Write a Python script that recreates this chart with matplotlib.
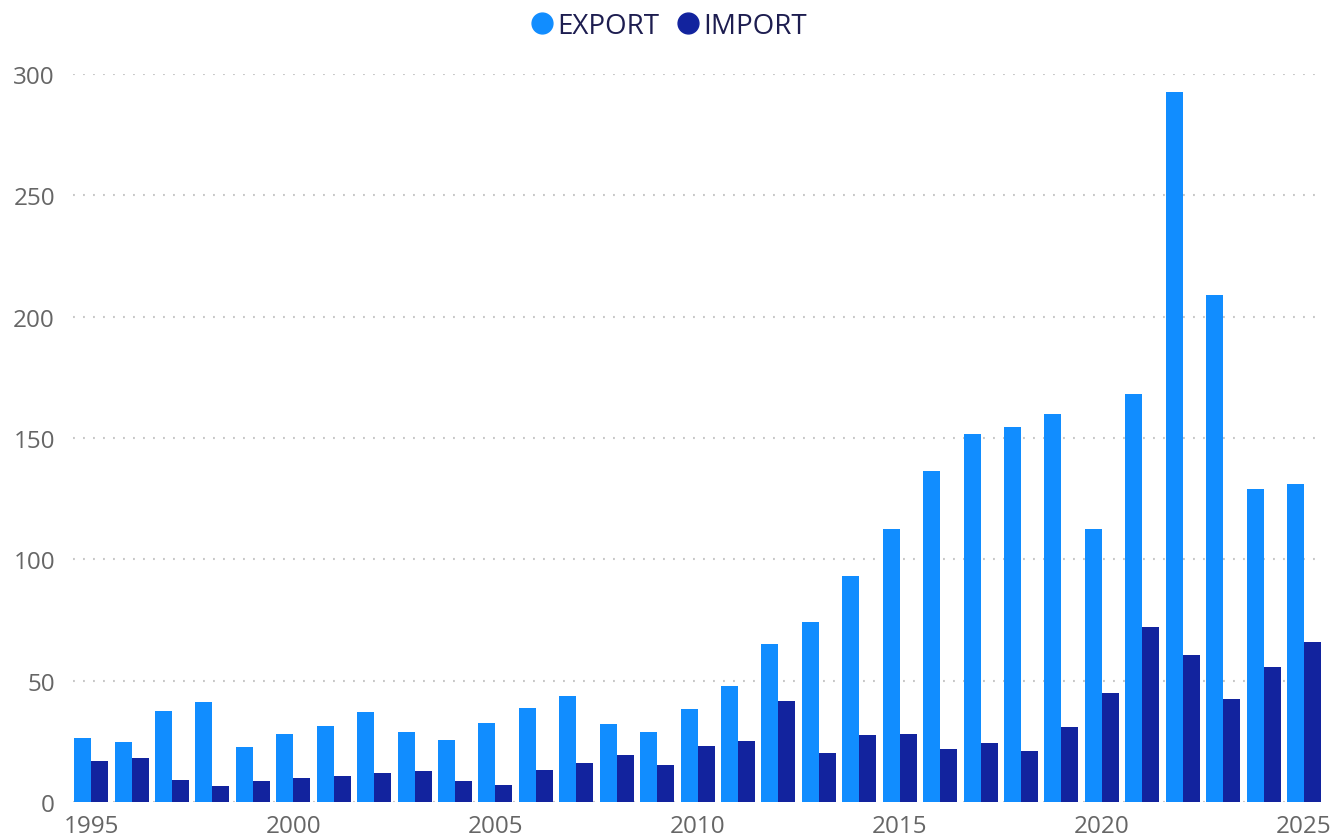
import numpy as np
import matplotlib.pyplot as plt
from matplotlib.lines import Line2D

plt.rcParams['font.family'] = ['Open Sans', 'DejaVu Sans']

years = list(range(1995, 2026))
export = [26.4, 24.7, 37.5, 41.2, 22.7, 28.0, 31.3, 37.1, 28.9, 25.6,
          32.6, 38.7, 43.7, 32.1, 28.9, 38.3, 47.8, 65.1, 74.2, 93.2,
          112.5, 136.4, 151.7, 154.6, 159.9, 112.5, 168.2, 292.7, 209.0, 129.0, 131.1]
imports = [16.9, 18.1, 9.1, 6.6, 8.7, 9.9, 10.7, 12.0, 12.8, 8.7,
           7.0, 13.2, 16.1, 19.4, 15.3, 23.1, 25.1, 41.6, 20.2, 27.6,
           28.0, 21.8, 24.3, 21.0, 30.9, 44.9, 72.1, 60.6, 42.5, 55.6, 66.0]
xticks = [1995, 2000, 2005, 2010, 2015, 2020, 2025]
yticks = [0, 50, 100, 150, 200, 250, 300]

c_exp = "#118DFF"
c_imp = "#12239E"

### --------------------------------------------
fig = plt.figure(figsize=(13.35, 8.37), dpi=100)
ax = fig.add_axes([73/1335, 34/837, 1248/1335, 728/837])

x = np.array(years)
w = 0.42
ax.bar(x - w/2, export, width=w, color=c_exp, zorder=3)
ax.bar(x + w/2, imports, width=w, color=c_imp, zorder=3)

ax.set_xlim(1994.55, 2025.42)
ax.set_ylim(0, 300)
ax.set_xticks(xticks)
ax.set_yticks(yticks)
ax.tick_params(axis='both', length=0, labelsize=17.5, labelcolor='#666666')
ax.tick_params(axis='y', pad=13)
ax.tick_params(axis='x', pad=9)
for s in ax.spines.values():
    s.set_visible(False)
ax.grid(axis='y', color='#c8c8c8', linewidth=1.5, linestyle=(0, (0.9, 3.9)), zorder=0)
ax.set_axisbelow(True)

handles = [Line2D([], [], marker='o', linestyle='', markersize=15, color=c_exp),
           Line2D([], [], marker='o', linestyle='', markersize=15, color=c_imp)]
fig.legend(handles, ['EXPORT', 'IMPORT'], loc='center', bbox_to_anchor=(0.5, 1 - 27/837),
           ncol=2, frameon=False, fontsize=20, labelcolor='#1d1d50',
           handletextpad=0.05, columnspacing=0.5, handlelength=1.0)

plt.savefig('out.png', dpi=100)
plt.close()
